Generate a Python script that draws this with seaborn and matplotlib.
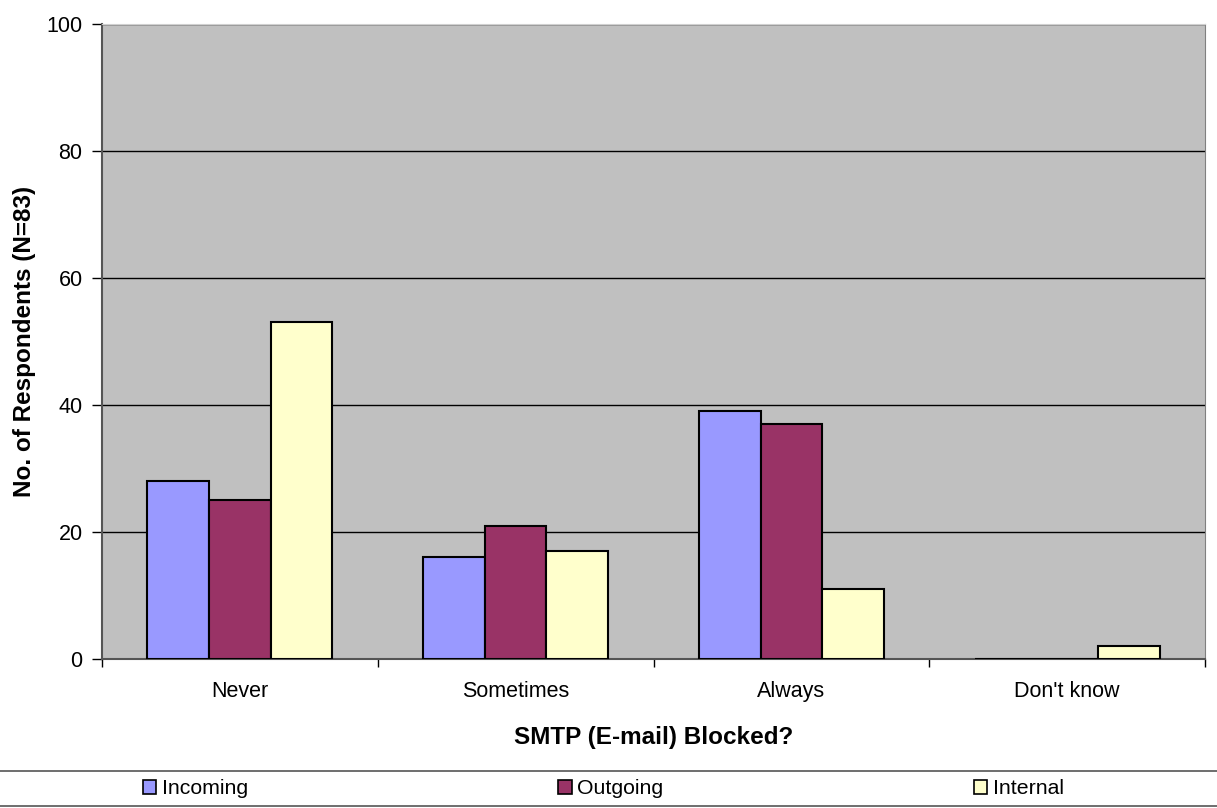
import pandas as pd
import matplotlib.pyplot as plt
import seaborn as sns
from matplotlib.lines import Line2D

# Valeurs
categories = ["Never", "Sometimes", "Always", "Don't know"]
incoming = [28, 16, 39, 0]
outgoing = [25, 21, 37, 0]
internal = [53, 17, 11, 2]
series = ["Incoming", "Outgoing", "Internal"]
colors = ["#9999FF", "#993366", "#FFFFCC"]

df = pd.DataFrame({
    "Blocked": categories * 3,
    "Type": [s for s in series for _ in categories],
    "Count": incoming + outgoing + internal,
})

sns.set_style("white")
plt.rcParams["font.family"] = ["Liberation Sans", "DejaVu Sans"]
plt.rcParams["text.color"] = "black"
plt.rcParams["axes.labelcolor"] = "black"
plt.rcParams["xtick.color"] = "black"
plt.rcParams["ytick.color"] = "black"

fig = plt.figure(figsize=(12.17, 8.08), dpi=100)
ax = fig.add_axes([102 / 1217, 1 - 659 / 808, 1103 / 1217, 635 / 808])
ax.set_facecolor("#C0C0C0")

sns.barplot(data=df, x="Blocked", y="Count", hue="Type", palette=colors,
            order=categories, hue_order=series, width=0.67, saturation=1,
            edgecolor="black", linewidth=1.5, ax=ax, legend=False, zorder=3)

ax.set_ylim(0, 100)
ax.set_xlim(-0.5, 3.5)
ax.set_yticks(range(0, 101, 20))
ax.yaxis.grid(True, color="black", linewidth=1, zorder=0)
ax.set_axisbelow(True)
ax.tick_params(axis="y", direction="out", length=7, width=1,
               labelsize=15.5, pad=7, left=True)
ax.tick_params(axis="x", which="major", length=0, labelsize=15.5, pad=16)
ax.set_xticks([-0.5, 0.5, 1.5, 2.5, 3.5], minor=True)
ax.tick_params(axis="x", which="minor", direction="out", length=6, width=1,
               bottom=True)

for side in ["left", "bottom"]:
    ax.spines[side].set_color("#555555")
    ax.spines[side].set_linewidth(1.5)
ax.spines["right"].set_color("#808080")
ax.spines["top"].set_color("#D0D0D0")

ax.set_xlabel("SMTP (E-mail) Blocked?", fontsize=17.5, fontweight="bold", labelpad=17)
ax.set_ylabel("No. of Respondents (N=83)", fontsize=17.5, fontweight="bold", labelpad=7.5)

handles = [plt.Rectangle((0, 0), 1, 1, facecolor=c, edgecolor="black", linewidth=1.2)
           for c in colors]
fig.legend(handles, series, loc="center left", bbox_to_anchor=(132 / 1217, 1 - 789 / 808),
           ncol=3, frameon=False, fontsize=15.3, handlelength=0.65, handleheight=0.65,
           handletextpad=0.25, columnspacing=14.6, borderpad=0)

for yy in [1 - 771 / 808, 1 - 806 / 808]:
    fig.add_artist(Line2D([0, 1], [yy, yy], transform=fig.transFigure,
                          color="#555555", linewidth=1.2))

fig.savefig("out.png", dpi=100)
